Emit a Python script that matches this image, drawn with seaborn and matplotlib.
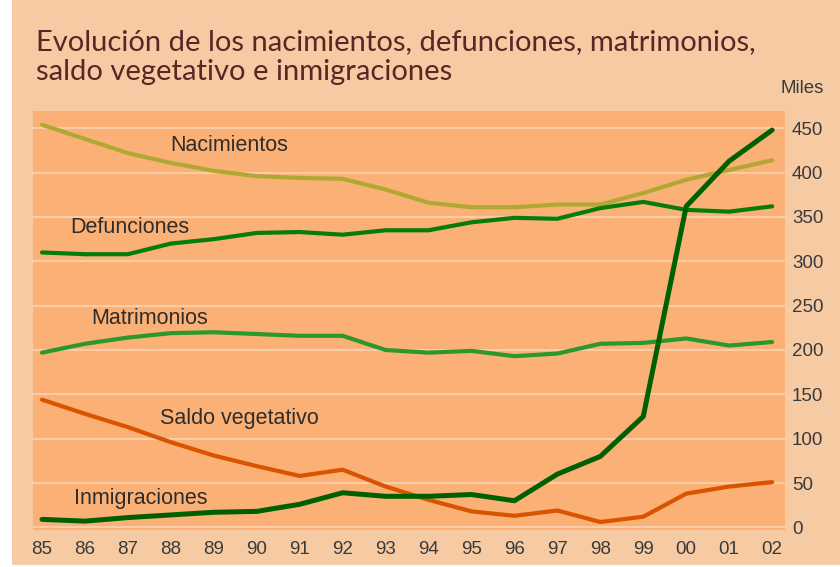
import numpy as np
import pandas as pd
import matplotlib
matplotlib.use("Agg")
import matplotlib.pyplot as plt
import seaborn as sns

# years shown on the x axis
years = ['85', '86', '87', '88', '89', '90', '91', '92', '93', '94',
         '95', '96', '97', '98', '99', '00', '01', '02']

# values in thousands
nacimientos = [454, 438, 422, 411, 402, 396, 394, 393, 381, 366, 361, 361, 364, 364, 377, 392, 403, 414]
defunciones = [310, 308, 308, 320, 325, 332, 333, 330, 335, 335, 344, 349, 348, 360, 367, 358, 356, 362]
matrimonios = [197, 207, 214, 219, 220, 218, 216, 216, 200, 197, 199, 193, 196, 207, 208, 213, 205, 209]
saldo_vegetativo = [144, 128, 113, 96, 81, 69, 58, 65, 46, 31, 18, 13, 19, 6, 12, 38, 46, 51]
inmigraciones = [9, 7, 11, 14, 17, 18, 26, 39, 35, 35, 37, 30, 60, 80, 125, 362, 413, 448]

y_ticks = [0, 50, 100, 150, 200, 250, 300, 350, 400, 450]

series = {
    'Nacimientos': nacimientos,
    'Defunciones': defunciones,
    'Matrimonios': matrimonios,
    'Saldo vegetativo': saldo_vegetativo,
    'Inmigraciones': inmigraciones,
}
colors = {
    'Nacimientos': '#b1a834',
    'Defunciones': '#067c0a',
    'Matrimonios': '#2a982a',
    'Saldo vegetativo': '#d95400',
    'Inmigraciones': '#006000',
}
widths = {
    'Nacimientos': 3.0,
    'Defunciones': 3.0,
    'Matrimonios': 3.0,
    'Saldo vegetativo': 3.0,
    'Inmigraciones': 3.6,
}
# label anchor (x index, value)
label_pos = {
    'Nacimientos': (4.35, 431),
    'Defunciones': (2.05, 338),
    'Matrimonios': (2.5, 236),
    'Saldo vegetativo': (4.6, 123),
    'Inmigraciones': (2.3, 33),
}

df = pd.concat([
    pd.DataFrame({'idx': np.arange(len(years)), 'valor': vals, 'serie': name})
    for name, vals in series.items()
], ignore_index=True)

sns.set_style('white')
plt.rcParams['font.family'] = ['Liberation Sans', 'DejaVu Sans']

fig = plt.figure(figsize=(8.4, 5.67), dpi=100)
fig.patch.set_facecolor('white')
# peach background panel (leaves a thin white strip on the left)
fig.patches.append(plt.Rectangle((12 / 840, 2 / 567), 1, 1, transform=fig.transFigure,
                                 facecolor='#f6caa2', edgecolor='none', zorder=-10))

ax = fig.add_axes([33 / 840, 37 / 567, 752 / 840, 419 / 567])
ax.set_facecolor('#fbb075')

for name in series:
    sub = df[df['serie'] == name]
    sns.lineplot(data=sub, x='idx', y='valor', color=colors[name], linewidth=widths[name],
                 ax=ax, legend=False, solid_joinstyle='round', solid_capstyle='round', zorder=3)
    lx, ly = label_pos[name]
    ax.text(lx, ly, name, ha='center', va='center', fontsize=15.5, color='#2d2d2d', zorder=4)

ax.set_xlim(-0.21, 17.3)
ax.set_ylim(-3, 469.5)
ax.set_xticks(np.arange(len(years)))
ax.set_xticklabels(years, fontsize=13.5, color='#3a3a3a')
ax.set_yticks(y_ticks)
ax.set_yticklabels([str(t) for t in y_ticks], fontsize=13.5, color='#3a3a3a')
ax.yaxis.tick_right()
ax.tick_params(axis='both', length=0)
ax.tick_params(axis='y', pad=5)
ax.tick_params(axis='x', pad=8)
ax.grid(axis='y', color='#fad3b3', linewidth=1.2)
ax.grid(axis='x', visible=False)
ax.set_axisbelow(True)
ax.set_xlabel('')
ax.set_ylabel('')
for s in ax.spines.values():
    s.set_visible(False)

title_font = ['Lato', 'DejaVu Sans']
fig.text(36 / 840, 1 - 42 / 567,
         'Evolución de los nacimientos, defunciones, matrimonios,',
         fontsize=21, color='#5a2626', va='center', ha='left', family=title_font,
         fontweight='normal')
fig.text(36 / 840, 1 - 72 / 567,
         'saldo vegetativo e inmigraciones',
         fontsize=21, color='#5a2626', va='center', ha='left', family=title_font,
         fontweight='normal')
fig.text(802 / 840, 1 - 89 / 567, 'Miles', fontsize=13.5, color='#3a3a3a',
         ha='center', va='center')

fig.savefig('out.png', dpi=100, facecolor=fig.get_facecolor())
